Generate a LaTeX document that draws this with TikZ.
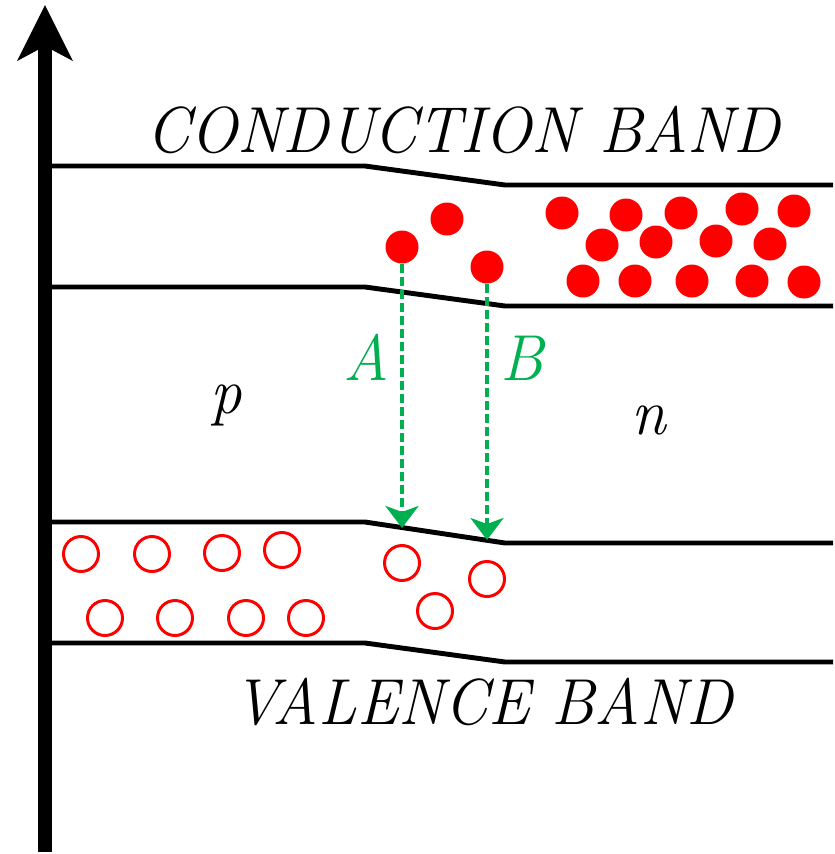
\documentclass[tikz,border=0pt]{standalone}
\usepackage{xcolor}
\usepackage{tikz}
\usetikzlibrary{arrows.meta,positioning,calc}
\definecolor{jumpgreen}{RGB}{0,176,80}

\begin{document}
\begin{tikzpicture}[
  axis/.style={line width=4pt, -{Stealth[length=5.5mm, width=5.4mm, inset=1.4mm]}},
  band/.style={line width=1.4pt},
  electron/.style={circle, fill=red, minimum size=3.3mm, inner sep=0pt},
  hole/.style={circle, draw=red, line width=0.85pt, minimum size=3.5mm, inner sep=0pt},
  jump/.style={jumpgreen, line width=1.1pt, dash pattern=on 2.4pt off 1.3pt, -{Stealth[length=2.2mm, width=3.3mm, inset=0.6mm]}},
  lbl/.style={font=\fontsize{18.5}{20}\selectfont\itshape, inner sep=0pt, anchor=base, xscale=0.965}
]
\useasboundingbox (0,0) rectangle (8.35,-8.54);

% energy axis
\coordinate (axbot) at (0.45,-8.52);
\coordinate (axtop) at (0.45,-0.05);
\draw[axis] (axbot) -- (axtop);

% band edges
\draw[band] (0.45,-1.66) -- (3.65,-1.66) -- (5.05,-1.85) -- (8.33,-1.85);
\draw[band] (0.45,-2.87) -- (3.65,-2.87) -- (5.05,-3.06) -- (8.33,-3.06);
\draw[band] (0.45,-5.22) -- (3.65,-5.22) -- (5.05,-5.43) -- (8.33,-5.43);
\draw[band] (0.45,-6.43) -- (3.65,-6.43) -- (5.05,-6.62) -- (8.33,-6.62);

\node[lbl] (cb) at (4.63,-1.52) {CONDUCTION BAND};
\node[lbl] (vb) at (4.83,-7.24) {VALENCE BAND};
\node[lbl] (p) at (2.26,-4.13) {p};
\node[lbl] (n) at (6.49,-4.34) {n};

% electrons in the junction
\node[electron] (e1) at (4.02,-2.47) {};
\node[electron] (e2) at (4.47,-2.19) {};
\node[electron] (e3) at (4.87,-2.67) {};

% electrons, n side
\node[electron] (en1) at (5.62,-2.13) {};
\node[electron] (en2) at (6.26,-2.15) {};
\node[electron] (en3) at (6.81,-2.13) {};
\node[electron] (en4) at (7.42,-2.09) {};
\node[electron] (en5) at (7.94,-2.11) {};
\node[electron] (en6) at (6.02,-2.45) {};
\node[electron] (en7) at (6.56,-2.42) {};
\node[electron] (en8) at (7.16,-2.41) {};
\node[electron] (en9) at (7.70,-2.44) {};
\node[electron] (en10) at (5.83,-2.81) {};
\node[electron] (en11) at (6.35,-2.81) {};
\node[electron] (en12) at (6.92,-2.81) {};
\node[electron] (en13) at (7.52,-2.81) {};
\node[electron] (en14) at (8.04,-2.82) {};

% holes, p side
\node[hole] (hp1) at (0.81,-5.54) {};
\node[hole] (hp2) at (1.52,-5.54) {};
\node[hole] (hp3) at (2.22,-5.53) {};
\node[hole] (hp4) at (2.82,-5.50) {};
\node[hole] (hp5) at (1.05,-6.18) {};
\node[hole] (hp6) at (1.75,-6.18) {};
\node[hole] (hp7) at (2.46,-6.18) {};
\node[hole] (hp8) at (3.06,-6.18) {};

% holes in the junction
\node[hole] (h1) at (4.02,-5.63) {};
\node[hole] (h2) at (4.87,-5.79) {};
\node[hole] (h3) at (4.35,-6.11) {};

% recombination
\coordinate (endA) at (4.02,-5.28);
\coordinate (endB) at (4.87,-5.40);
\draw[jump] (e1.south) -- (endA);
\draw[jump] (e3.south) -- (endB);
\node[lbl, text=jumpgreen] (A) at (3.66,-3.80) {A};
\node[lbl, text=jumpgreen] (B) at (5.22,-3.80) {B};

\end{tikzpicture}
\end{document}
